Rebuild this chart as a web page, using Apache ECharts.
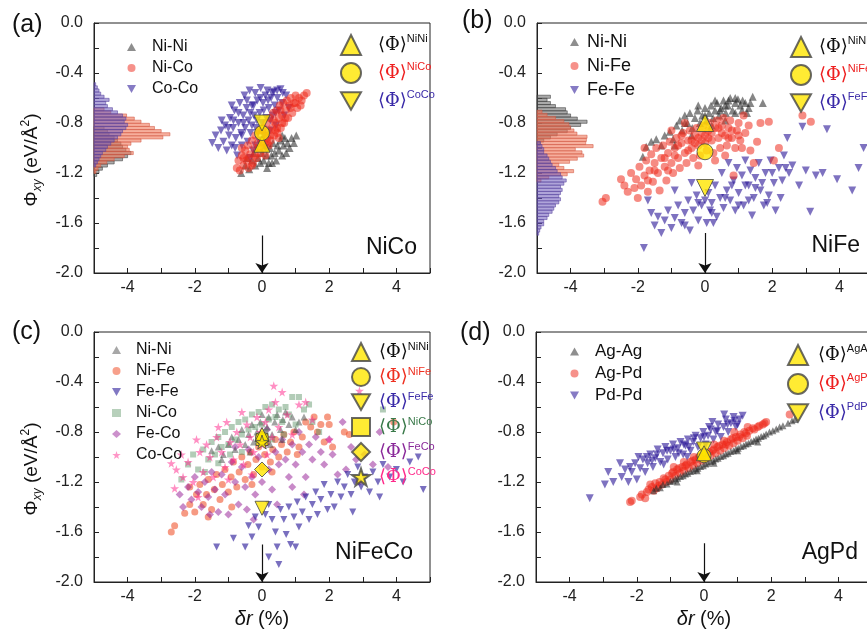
<!DOCTYPE html>
<html>
<head>
<meta charset="utf-8">
<title>Phi_xy vs delta r</title>
<script src="https://cdn.jsdelivr.net/npm/echarts@6/dist/echarts.min.js"></script>
<style>
html, body { margin: 0; padding: 0; background: #fff; }
#main { width: 867px; height: 634px; }
</style>
</head>
<body>
<div id="main"></div>
<script>
// ---- values (delta r in %, Phi_xy in eV/A^2) ----
const xTicks = [-4, -2, 0, 2, 4];

// (a) NiCo
const aNiNi = [[-0.62,-1.2],[-0.5,-1.14],[-0.45,-1.08],[-0.38,-1.17],[-0.3,-1.1],[-0.25,-1.04],[-0.2,-1.14],[-0.12,-1.08],[-0.05,-1.12],[0,-1.04],[0.05,-1.1],[0.1,-0.98],[0.14,-1.06],[0.2,-1.12],[0.24,-1.0],[0.28,-1.06],[0.33,-0.96],[0.38,-1.04],[0.42,-1.1],[0.46,-0.98],[0.5,-1.02],[0.55,-0.94],[0.6,-1.06],[0.64,-0.98],[0.68,-0.92],[0.72,-1.04],[0.76,-0.96],[0.82,-1.0],[0.88,-0.92],[0.95,-0.96],[1.02,-0.9],[0.3,-1.12],[0.6,-0.9],[0.15,-1.16]];
const aNiCo = [[-0.75,-1.16],[-0.7,-1.1],[-0.66,-1.18],[-0.6,-1.06],[-0.55,-1.14],[-0.5,-1.02],[-0.47,-1.1],[-0.42,-0.98],[-0.4,-1.16],[-0.35,-1.05],[-0.3,-0.94],[-0.27,-1.12],[-0.22,-1.0],[-0.2,-0.9],[-0.15,-1.08],[-0.12,-0.96],[-0.08,-0.86],[-0.05,-1.04],[0,-0.94],[0.03,-0.84],[0.06,-1.0],[0.1,-0.9],[0.13,-0.8],[0.16,-0.96],[0.2,-0.86],[0.23,-0.76],[0.26,-0.94],[0.3,-0.84],[0.33,-0.72],[0.36,-0.9],[0.4,-0.8],[0.43,-0.7],[0.46,-0.88],[0.5,-0.76],[0.53,-0.66],[0.56,-0.84],[0.6,-0.74],[0.63,-0.64],[0.66,-0.8],[0.7,-0.7],[0.74,-0.62],[0.78,-0.76],[0.82,-0.66],[0.86,-0.6],[0.9,-0.72],[0.95,-0.64],[1.0,-0.58],[1.05,-0.68],[1.1,-0.6],[1.18,-0.62],[1.25,-0.58],[1.33,-0.56],[-0.3,-1.14],[0.1,-1.06],[-0.6,-1.0],[0.2,-0.98],[0.5,-0.92],[0.0,-0.86],[0.35,-0.78],[0.55,-0.7],[0.7,-0.76],[0.45,-0.84],[0.25,-0.9],[0.15,-0.92],[-0.1,-1.0],[-0.2,-1.06],[0.85,-0.68],[1.0,-0.64],[0.6,-0.8],[0.4,-0.86],[0.05,-0.96],[-0.4,-1.08],[-0.55,-1.08],[1.15,-0.66]];
const aCoCo = [[-1.48,-0.96],[-1.38,-0.9],[-1.3,-1.0],[-1.22,-0.86],[-1.15,-0.95],[-1.1,-0.82],[-1.05,-1.02],[-0.98,-0.9],[-0.95,-0.76],[-0.9,-0.98],[-0.86,-0.84],[-0.82,-0.7],[-0.78,-0.92],[-0.74,-1.06],[-0.7,-0.8],[-0.66,-0.64],[-0.62,-0.88],[-0.6,-0.98],[-0.56,-0.74],[-0.52,-0.58],[-0.5,-0.84],[-0.46,-0.68],[-0.43,-0.95],[-0.4,-0.78],[-0.37,-0.54],[-0.34,-0.88],[-0.3,-0.66],[-0.27,-1.02],[-0.24,-0.74],[-0.2,-0.56],[-0.18,-0.84],[-0.14,-0.62],[-0.1,-0.94],[-0.07,-0.72],[-0.04,-0.52],[0,-0.8],[0.03,-0.64],[0.06,-0.9],[0.1,-0.58],[0.13,-0.76],[0.16,-0.54],[0.2,-0.68],[0.24,-0.86],[0.27,-0.6],[0.31,-0.74],[0.35,-0.55],[0.38,-0.66],[0.42,-0.82],[0.46,-0.6],[0.5,-0.7],[0.55,-0.53],[0.6,-0.64],[0.66,-0.74],[0.72,-0.58],[0.8,-0.68],[-0.8,-1.0],[-0.35,-1.08],[-0.2,-0.98],[0.1,-1.0],[-0.6,-0.9],[-1.2,-0.78],[-0.9,-0.66],[-0.7,-0.72],[-0.45,-0.62],[-0.25,-0.66],[-0.15,-0.78],[0.05,-0.7],[0.18,-0.62],[0.3,-0.56],[0.4,-0.72],[-0.55,-0.8],[-0.35,-0.72],[-0.05,-0.6],[0.25,-0.78],[-0.85,-0.78],[-1.0,-0.84],[0.45,-0.54],[0.62,-0.56],[-0.12,-0.88],[-0.3,-0.82]];
const aMeans = [-0.97, -0.88, -0.8];          // NiNi, NiCo, CoCo

// (a) histograms: bar lengths (in delta r units from the left axis), top bin centre
const HIST_BIN = 0.025;
const aHistNiNiTop = -0.84;
const aHistNiNi = [0.3,0.4,0.45,0.6,0.7,0.8,0.85,0.95,1.1,1.0,0.85,0.6,0.4,0.25,0.15,0.08];
const aHistNiCoTop = -0.69;
const aHistNiCo = [0.3,0.5,0.97,1.2,1.4,1.65,1.8,2.0,2.26,2.05,1.4,1.1,1.0,1.05,1.17,0.9,0.6,0.38,0.2,0.12,0.06];
const aHistCoCoTop = -0.49;
const aHistCoCo = [0.05,0.1,0.15,0.2,0.3,0.45,0.35,0.4,0.55,0.7,0.85,0.95,0.9,1.0,0.95,0.85,0.8,0.7,0.6,0.5,0.4,0.35,0.25,0.2,0.15,0.1,0.05];

// (b) NiFe
const bNiNi = [[-1.85,-1.07],[-1.75,-0.99],[-1.6,-0.95],[-1.45,-0.93],[-1.3,-0.98],[-1.2,-0.9],[-1.05,-0.87],[-0.95,-0.93],[-0.85,-0.82],[-0.75,-0.78],[-0.68,-0.86],[-0.6,-0.74],[-0.52,-0.8],[-0.45,-0.72],[-0.38,-0.84],[-0.3,-0.76],[-0.22,-0.7],[-0.15,-0.8],[-0.08,-0.74],[0,-0.68],[0.05,-0.78],[0.12,-0.72],[0.18,-0.66],[0.24,-0.76],[0.3,-0.7],[0.36,-0.64],[0.42,-0.74],[0.48,-0.68],[0.55,-0.62],[0.62,-0.72],[0.68,-0.66],[0.75,-0.6],[0.82,-0.7],[0.9,-0.64],[0.98,-0.61],[1.05,-0.66],[1.12,-0.62],[1.2,-0.64],[1.3,-0.68],[1.42,-0.59],[1.72,-0.64],[-0.4,-0.9],[0.2,-0.82],[0.6,-0.78],[-0.9,-0.98],[0.9,-0.72],[1.25,-0.72],[0.3,-0.62],[0.6,-0.66],[0.9,-0.6],[1.1,-0.7],[-0.2,-0.66],[0.45,-0.7],[0.7,-0.62],[1.35,-0.64],[-0.6,-0.8],[0.0,-0.74]];
const bNiFe = [[-3.05,-1.43],[-2.95,-1.4],[-2.5,-1.25],[-2.4,-1.3],[-2.3,-1.35],[-2.2,-1.2],[-2.1,-1.32],[-2.05,-1.25],[-1.95,-1.15],[-1.9,-1.3],[-1.8,-1.22],[-1.75,-1.1],[-1.7,-1.35],[-1.65,-1.18],[-1.6,-1.05],[-1.55,-1.27],[-1.5,-1.12],[-1.45,-1.0],[-1.4,-1.2],[-1.35,-1.34],[-1.3,-1.08],[-1.25,-0.98],[-1.2,-1.15],[-1.15,-1.26],[-1.1,-1.04],[-1.05,-0.95],[-1.0,-1.12],[-0.95,-1.2],[-0.9,-1.0],[-0.85,-0.92],[-0.8,-1.08],[-0.75,-1.16],[-0.7,-0.96],[-0.65,-0.88],[-0.6,-1.04],[-0.55,-1.12],[-0.5,-0.94],[-0.45,-0.86],[-0.4,-1.0],[-0.35,-1.08],[-0.3,-0.9],[-0.25,-0.84],[-0.2,-0.98],[-0.15,-1.06],[-0.1,-0.88],[-0.05,-0.82],[0.0,-0.96],[0.05,-1.02],[0.1,-0.86],[0.15,-0.8],[0.2,-0.94],[0.25,-1.04],[0.3,-0.84],[0.35,-0.78],[0.4,-0.92],[0.45,-1.0],[0.5,-0.82],[0.55,-0.76],[0.6,-0.9],[0.65,-0.98],[0.7,-0.84],[0.75,-0.78],[0.8,-0.92],[0.9,-1.0],[0.95,-0.86],[1.0,-0.8],[1.05,-0.94],[1.1,-1.0],[1.15,-0.74],[1.2,-0.88],[1.3,-0.82],[1.35,-1.02],[1.45,-1.12],[1.55,-0.95],[1.65,-0.8],[1.9,-0.79],[2.05,-1.1],[2.2,-1.0],[2.9,-0.74],[3.15,-0.79],[0.85,-1.22],[-1.8,-1.0],[-2.0,-1.4],[-0.6,-0.8],[0.3,-1.1],[-0.2,-1.14],[-1.0,-0.86],[0.6,-1.06],[-0.7,-0.9],[-0.4,-0.94],[-0.1,-0.94],[0.2,-0.88],[0.5,-0.88],[0.8,-0.86],[-0.5,-1.02],[-0.2,-0.92],[0.1,-0.92],[0.4,-0.84],[-0.9,-1.06],[-1.2,-1.08],[-1.5,-1.18],[0.7,-0.92],[1.0,-0.9],[-0.3,-0.96],[0.0,-0.9],[-0.8,-0.98],[-1.1,-1.18],[-1.7,-1.26]];
const bFeFe = [[-1.82,-1.8],[-1.6,-1.52],[-1.5,-1.62],[-1.4,-1.55],[-1.3,-1.68],[-1.2,-1.58],[-1.1,-1.5],[-1.0,-1.64],[-0.9,-1.56],[-0.8,-1.46],[-0.7,-1.6],[-0.6,-1.52],[-0.5,-1.42],[-0.45,-1.66],[-0.35,-1.5],[-0.25,-1.38],[-0.2,-1.58],[-0.1,-1.46],[0,-1.42],[0.05,-1.6],[0.1,-1.36],[0.15,-1.5],[0.2,-1.44],[0.3,-1.3],[0.35,-1.55],[0.45,-1.4],[0.5,-1.2],[0.55,-1.48],[0.65,-1.34],[0.7,-1.12],[0.75,-1.42],[0.85,-1.26],[0.9,-1.5],[0.95,-1.16],[1.0,-1.36],[1.1,-1.22],[1.15,-1.46],[1.2,-1.1],[1.3,-1.3],[1.35,-1.18],[1.45,-1.4],[1.5,-1.24],[1.6,-1.12],[1.65,-1.34],[1.75,-1.46],[1.8,-1.2],[1.9,-1.38],[1.95,-1.1],[2.05,-1.28],[2.1,-1.5],[2.2,-1.16],[2.25,-1.4],[2.35,-1.06],[2.45,-0.92],[2.5,-1.2],[2.6,-1.14],[2.8,-1.3],[2.9,-0.83],[3.0,-1.18],[3.13,-1.51],[3.3,-1.22],[3.5,-1.2],[3.63,-0.85],[3.93,-1.25],[4.38,-1.34],[4.57,-1.16],[4.72,-1.0],[-0.4,-1.28],[-0.9,-1.34],[0.25,-1.6],[1.4,-1.54],[-1.7,-1.42],[1.2,-1.3],[1.5,-1.32],[1.7,-1.28],[2.0,-1.2],[2.3,-1.26],[1.0,-1.46],[0.6,-1.4],[0.2,-1.52],[-0.2,-1.44],[1.85,-1.44],[2.4,-1.16],[1.3,-1.42],[0.8,-1.3],[-0.6,-1.62]];
const bMeans = [-0.8, -1.03, -1.32];          // NiNi, NiFe, FeFe

const bHistNiNiTop = -0.59;
const bHistNiNi = [0.4,0.3,0.4,0.55,0.85,0.9,1.0,1.2,1.49,1.3,1.0,0.9,0.6,0.4,0.2,0.1];
const bHistNiFeTop = -0.71;
const bHistNiFe = [0.15,0.3,0.55,0.8,0.95,1.0,1.1,1.19,1.49,1.47,1.45,1.67,1.14,1.34,1.39,1.2,0.97,0.65,0.8,1.09,0.9,0.35,0.12];
const bHistFeFeTop = -0.96;
const bHistFeFe = [0.1,0.15,0.2,0.2,0.3,0.35,0.4,0.45,0.55,0.6,0.7,0.75,0.87,0.8,0.7,0.75,0.7,0.65,0.7,0.65,0.55,0.5,0.45,0.35,0.3,0.2,0.2,0.12,0.08,0.05];

// (c) NiFeCo
const cNiNi = [[-1.5,-0.95],[-1.3,-0.92],[-1.15,-0.98],[-1.0,-0.9],[-0.9,-0.84],[-0.8,-0.94],[-0.7,-0.86],[-0.6,-0.78],[-0.5,-0.9],[-0.4,-0.82],[-0.3,-0.74],[-0.25,-0.88],[-0.15,-0.8],[-0.05,-0.72],[0.0,-0.66],[0.05,-0.86],[0.15,-0.76],[0.2,-0.68],[0.3,-0.82],[0.38,-0.72],[0.45,-0.66],[0.55,-0.78],[0.62,-0.7],[0.7,-0.64],[0.8,-0.74],[0.9,-0.68],[1.0,-0.78],[1.1,-0.72],[1.25,-0.68],[-0.35,-0.96],[0.25,-0.9],[-1.2,-1.02],[0.6,-0.86]];
const cNiFe = [[-2.7,-1.6],[-2.6,-1.55],[-2.3,-1.45],[-2.15,-1.38],[-2.0,-1.44],[-1.95,-1.3],[-1.85,-1.22],[-1.75,-1.38],[-1.65,-1.3],[-1.6,-1.18],[-1.5,-1.42],[-1.42,-1.26],[-1.35,-1.14],[-1.25,-1.34],[-1.18,-1.22],[-1.1,-1.1],[-1.0,-1.28],[-0.92,-1.16],[-0.85,-1.04],[-0.75,-1.24],[-0.68,-1.12],[-0.6,-1.0],[-0.5,-1.18],[-0.42,-1.06],[-0.35,-0.96],[-0.25,-1.14],[-0.18,-1.02],[-0.1,-0.92],[0.0,-1.08],[0.08,-0.98],[0.15,-0.88],[0.25,-1.04],[0.32,-0.94],[0.4,-0.86],[0.5,-1.0],[0.58,-0.9],[0.65,-0.82],[0.75,-0.96],[0.85,-0.88],[0.95,-0.8],[1.05,-0.98],[1.1,-0.92],[1.2,-0.84],[1.3,-0.72],[1.45,-0.76],[1.55,-0.68],[1.65,-0.8],[1.75,-0.74],[1.85,-0.88],[1.95,-0.68],[2.0,-0.74],[2.1,-0.92],[2.45,-0.8],[2.6,-0.82],[3.92,-0.72],[-1.6,-1.48],[-0.9,-1.4],[-0.3,-1.22],[0.3,-1.12],[-2.15,-1.24]];
const cFeFe = [[-1.35,-1.72],[-0.85,-1.65],[-0.5,-1.72],[-0.4,-1.55],[-0.3,-1.64],[-0.2,-1.48],[-0.1,-1.56],[0.1,-1.46],[0.2,-1.38],[0.3,-1.5],[0.4,-1.6],[0.45,-1.72],[0.5,-1.86],[0.55,-1.42],[0.65,-1.5],[0.72,-1.62],[0.8,-1.4],[0.85,-1.7],[0.95,-1.48],[1.05,-1.36],[1.1,-1.56],[1.2,-1.44],[1.3,-1.32],[1.4,-1.5],[1.5,-1.38],[1.6,-1.28],[1.65,-1.46],[1.75,-1.34],[1.85,-1.22],[1.95,-1.42],[2.05,-1.3],[2.15,-1.4],[2.25,-1.2],[2.35,-1.32],[2.45,-1.24],[2.55,-1.14],[2.65,-1.3],[2.75,-1.2],[2.85,-1.08],[2.95,-1.24],[3.05,-1.16],[3.2,-1.28],[3.3,-1.12],[3.45,-1.2],[3.6,-1.06],[3.8,-1.16],[4.0,-1.1],[4.2,-1.2],[4.4,-1.04],[4.65,-1.0],[4.8,-1.26],[1.0,-1.72],[0.2,-1.8],[2.7,-1.44],[3.5,-1.32]];
const cNiCo = [[-2.4,-1.18],[-2.2,-1.06],[-2.05,-0.98],[-1.9,-1.1],[-1.75,-0.94],[-1.6,-1.02],[-1.5,-0.88],[-1.4,-0.98],[-1.3,-0.84],[-1.2,-0.92],[-1.1,-0.8],[-1.0,-0.9],[-0.9,-0.76],[-0.8,-0.86],[-0.7,-0.72],[-0.6,-0.82],[-0.5,-0.7],[-0.4,-0.78],[-0.3,-0.66],[-0.2,-0.76],[-0.1,-0.64],[0.0,-0.74],[0.1,-0.6],[0.2,-0.7],[0.3,-0.58],[0.4,-0.68],[0.5,-0.62],[0.6,-0.72],[0.7,-0.6],[0.8,-0.66],[0.9,-0.52],[1.0,-0.74],[1.1,-0.52],[1.25,-0.62],[1.4,-0.58],[1.5,-0.72],[1.7,-0.8],[3.6,-0.62],[-1.7,-1.12],[-0.6,-0.96],[0.3,-0.86],[-1.3,-1.05],[0.1,-0.8],[0.65,-0.82],[-0.95,-0.98]];
const cFeCo = [[-2.45,-1.3],[-2.35,-1.4],[-2.2,-1.24],[-2.1,-1.34],[-2.0,-1.16],[-1.9,-1.28],[-1.8,-1.4],[-1.7,-1.2],[-1.6,-1.32],[-1.5,-1.12],[-1.4,-1.26],[-1.3,-1.44],[-1.2,-1.14],[-1.1,-1.3],[-1.0,-1.46],[-0.9,-1.04],[-0.8,-1.2],[-0.7,-1.38],[-0.6,-1.08],[-0.5,-1.24],[-0.4,-0.94],[-0.3,-1.16],[-0.2,-1.3],[-0.1,-1.0],[0.0,-1.2],[0.1,-0.9],[0.2,-1.1],[0.3,-1.26],[0.4,-0.96],[0.5,-1.06],[0.6,-0.86],[0.7,-1.02],[0.8,-1.16],[0.9,-0.9],[1.0,-1.06],[1.1,-0.8],[1.2,-0.96],[1.3,-1.16],[1.4,-0.9],[1.5,-1.02],[1.6,-0.84],[1.75,-0.96],[1.85,-1.06],[2.0,-0.86],[2.1,-0.98],[2.25,-1.14],[2.4,-0.72],[2.5,-1.1],[2.65,-0.92],[2.8,-1.02],[2.9,-1.2],[3.05,-0.98],[3.3,-1.06],[3.5,-0.8],[3.75,-1.08],[-0.25,-1.5],[0.45,-1.38],[-1.55,-1.46],[-0.8,-0.92],[0.15,-0.78],[-0.45,-1.42],[0.9,-1.24],[1.25,-1.3]];
const cCoCo = [[-2.6,-1.25],[-2.55,-1.1],[-2.4,-0.98],[-2.35,-1.16],[-2.2,-1.04],[-2.05,-1.2],[-1.95,-0.86],[-1.85,-0.96],[-1.75,-1.12],[-1.65,-0.9],[-1.55,-1.0],[-1.45,-1.16],[-1.35,-0.84],[-1.3,-0.76],[-1.2,-0.96],[-1.1,-1.08],[-1.05,-0.72],[-0.95,-0.88],[-0.85,-1.02],[-0.75,-0.8],[-0.65,-0.9],[-0.55,-1.06],[-0.45,-0.74],[-0.35,-0.84],[-0.25,-0.96],[-0.15,-0.68],[-0.05,-0.8],[0.0,-0.9],[0.1,-0.72],[0.2,-0.62],[0.3,-0.84],[0.4,-0.56],[0.5,-0.76],[0.6,-0.48],[0.75,-0.66],[0.9,-0.82],[1.1,-0.58],[1.3,-0.56],[1.5,-0.7],[2.0,-0.86],[2.9,-0.47],[0.35,-0.43],[-1.9,-1.32],[-1.0,-1.18],[-0.3,-1.14],[0.15,-0.98],[-0.6,-0.64],[-2.7,-1.05]];
const cMeans = [-0.82, -0.85, -1.41, -0.86, -1.1, -0.88];  // NiNi, NiFe, FeFe, NiCo, FeCo, CoCo

// (d) AgPd
const dAgAg = [[-1.5,-1.27],[-1.42,-1.25],[-1.3,-1.245],[-1.22,-1.22],[-1.1,-1.215],[-1.0,-1.195],[-0.92,-1.19],[-0.85,-1.175],[-0.78,-1.17],[-0.7,-1.155],[-0.62,-1.15],[-0.55,-1.135],[-0.48,-1.13],[-0.4,-1.115],[-0.32,-1.11],[-0.25,-1.095],[-0.18,-1.09],[-0.1,-1.075],[-0.02,-1.07],[0.05,-1.055],[0.12,-1.05],[0.2,-1.035],[0.28,-1.03],[0.35,-1.015],[0.42,-1.01],[0.5,-0.995],[0.58,-0.99],[0.65,-0.975],[0.72,-0.97],[0.8,-0.955],[0.88,-0.95],[0.95,-0.935],[1.02,-0.93],[1.1,-0.915],[1.18,-0.91],[1.25,-0.895],[1.32,-0.89],[1.4,-0.875],[1.48,-0.87],[1.55,-0.855],[1.62,-0.85],[1.7,-0.835],[1.78,-0.83],[1.85,-0.815],[1.95,-0.8],[2.05,-0.79],[2.15,-0.775],[2.25,-0.76],[2.35,-0.75],[2.5,-0.73],[2.62,-0.71],[2.7,-0.7],[-0.8,-1.2],[0.3,-1.05],[1.0,-0.95],[1.6,-0.88],[-0.2,-1.11]];
const dAgPd = [[-2.2,-1.36],[-2.15,-1.35],[-1.85,-1.3],[-1.75,-1.33],[-1.7,-1.28],[-1.55,-1.24],[-1.5,-1.27],[-1.45,-1.21],[-1.4,-1.25],[-1.32,-1.2],[-1.25,-1.22],[-1.2,-1.17],[-1.12,-1.2],[-1.05,-1.15],[-1.0,-1.18],[-0.92,-1.12],[-0.85,-1.15],[-0.8,-1.1],[-0.72,-1.13],[-0.65,-1.08],[-0.6,-1.11],[-0.52,-1.06],[-0.45,-1.09],[-0.4,-1.04],[-0.32,-1.07],[-0.25,-1.02],[-0.2,-1.05],[-0.12,-1.0],[-0.05,-1.03],[0.0,-0.98],[0.08,-1.01],[0.15,-0.96],[0.2,-0.99],[0.28,-0.94],[0.35,-0.97],[0.4,-0.92],[0.48,-0.95],[0.55,-0.9],[0.6,-0.93],[0.68,-0.88],[0.75,-0.91],[0.8,-0.86],[0.88,-0.89],[0.95,-0.84],[1.0,-0.87],[1.08,-0.82],[1.15,-0.85],[1.2,-0.8],[1.28,-0.83],[1.35,-0.79],[1.45,-0.77],[1.6,-0.76],[1.75,-0.74],[1.85,-0.72],[2.55,-0.66],[-0.9,-1.08],[-0.3,-1.0],[0.3,-0.9],[0.9,-0.8],[-1.6,-1.22],[1.3,-0.76],[0.6,-0.87],[-0.6,-1.04],[-1.35,-1.23],[-1.15,-1.18],[-0.95,-1.13],[-0.75,-1.09],[-0.55,-1.07],[-0.35,-1.03],[-0.15,-1.0],[0.05,-0.97],[0.25,-0.95],[0.45,-0.91],[0.65,-0.9],[0.85,-0.85],[1.05,-0.84],[1.25,-0.81],[1.5,-0.78],[1.65,-0.75],[1.8,-0.73],[-1.9,-1.32],[-1.65,-1.26]];
const dPdPd = [[-3.4,-1.33],[-2.95,-1.22],[-2.7,-1.2],[-2.5,-1.05],[-2.45,-1.16],[-2.35,-1.1],[-2.25,-1.2],[-2.15,-1.12],[-2.05,-1.05],[-2.0,-1.18],[-1.9,-1.09],[-1.82,-1.02],[-1.75,-1.12],[-1.68,-1.05],[-1.6,-0.98],[-1.52,-1.08],[-1.45,-1.01],[-1.38,-0.94],[-1.3,-1.04],[-1.22,-0.97],[-1.15,-0.92],[-1.08,-1.02],[-1.0,-0.95],[-0.92,-0.9],[-0.85,-1.0],[-0.78,-0.93],[-0.7,-0.88],[-0.62,-0.98],[-0.55,-0.91],[-0.48,-0.86],[-0.4,-0.95],[-0.32,-0.88],[-0.25,-0.83],[-0.18,-0.92],[-0.1,-0.85],[-0.02,-0.8],[0.05,-0.9],[0.12,-0.83],[0.2,-0.78],[0.28,-0.86],[0.35,-0.8],[0.42,-0.74],[0.5,-0.84],[0.58,-0.76],[0.65,-0.7],[0.72,-0.8],[0.8,-0.73],[0.88,-0.68],[0.95,-0.76],[1.05,-0.7],[1.15,-0.67],[-2.85,-1.12],[-1.2,-1.06],[-0.5,-1.0],[0.25,-0.72],[-1.95,-1.0],[0.6,-0.66],[-1.7,-1.0],[-1.4,-0.98],[-1.1,-0.95],[-0.9,-0.94],[-0.6,-0.9],[-0.3,-0.85],[0.0,-0.84],[0.15,-0.76],[0.4,-0.79],[0.7,-0.74],[0.9,-0.71],[1.0,-0.74],[-0.75,-0.97],[-0.45,-0.92],[-2.2,-1.08],[-1.55,-1.03]];
const dMeans = [-0.97, -0.99, -0.94];          // AgAg, AgPd, PdPd

const arrowTops = [-1.7, -1.68, -1.7, -1.69];
const alloyNames = ['NiCo', 'NiFe', 'NiFeCo', 'AgPd'];
const panelLabels = ['(a)', '(b)', '(c)', '(d)'];

// ---- styling ----
const FONT = 'Liberation Sans';
const DOWN = 'path://M0,0L2,0L1,1.75Z';
const STAR = 'path://M50,0L61,35L98,35L68,57L79,91L50,70L21,91L32,57L2,35L39,35Z';
const YEL = '#ffe600';
const GRIDS = [
  {left: 94, top: 23, width: 336, height: 250},
  {left: 537, top: 23, width: 336, height: 250},
  {left: 94, top: 332, width: 336, height: 250},
  {left: 536, top: 332, width: 336, height: 250}
];

var chart = echarts.init(document.getElementById('main'));

function scat(name, gi, data, symbol, size, color) {
  return {
    type: 'scatter', name: name, xAxisIndex: gi, yAxisIndex: gi,
    data: data, symbol: symbol, symbolSize: size,
    itemStyle: {color: color}, silent: true
  };
}

function mean(name, gi, y, symbol, size) {
  return {
    type: 'scatter', name: name, xAxisIndex: gi, yAxisIndex: gi,
    data: [[0, y]], symbol: symbol, symbolSize: size, z: 5,
    itemStyle: {color: YEL, borderColor: '#444', borderWidth: 1}, silent: true
  };
}

function hist(gi, top, lens, fill, stroke) {
  var data = lens.map(function (v, i) { return [top - i * HIST_BIN, v]; });
  return {
    type: 'custom', xAxisIndex: gi, yAxisIndex: gi, data: data, silent: true, z: 1,
    encode: {x: 1, y: 0},
    renderItem: function (params, api) {
      var yc = api.value(0), len = api.value(1);
      var p0 = api.coord([-5, yc + HIST_BIN / 2]);
      var p1 = api.coord([-5 + len, yc - HIST_BIN / 2]);
      return {
        type: 'rect',
        shape: {x: p0[0], y: p0[1], width: p1[0] - p0[0], height: p1[1] - p0[1]},
        style: {fill: fill, stroke: stroke, lineWidth: 0.8}
      };
    }
  };
}

function arrow(gi) {
  return {
    type: 'line', xAxisIndex: gi, yAxisIndex: gi, data: [], silent: true,
    markLine: {
      silent: true, symbol: ['none', 'arrow'], symbolSize: 10,
      label: {show: false},
      lineStyle: {color: '#111', width: 1.2, type: 'solid'},
      data: [[{coord: [0, arrowTops[gi]]}, {coord: [0, -2]}]]
    }
  };
}

// left legend (pair types)
function pairLegend(names, left, top, gap, pad, fs) {
  return {
    orient: 'vertical', left: left, top: top, itemGap: gap,
    itemWidth: 9, itemHeight: 8, selectedMode: false, data: names,
    itemStyle: {opacity: 0.75},
    formatter: function (n) { return n.slice(2); },
    textStyle: {fontFamily: FONT, fontSize: fs, lineHeight: fs + 2, color: '#111', padding: [0, 0, 0, pad]}
  };
}

// right legend (<Phi> averages), coloured per item
function meanLegend(names, colors, left, top, gap, pad, icon, lh) {
  var rich = {};
  colors.forEach(function (c, i) {
    rich['b' + i] = {fontFamily: 'DejaVu Serif', fontSize: 18, lineHeight: lh, color: c};
    rich['s' + i] = {fontFamily: FONT, fontSize: 11, lineHeight: 12, verticalAlign: 'top', color: c};
  });
  return {
    orient: 'vertical', left: left, top: top, itemGap: gap,
    itemWidth: icon, itemHeight: icon, selectedMode: false, data: names,
    formatter: function (n) {
      var i = names.indexOf(n);
      return '{b' + i + '|\u27E8\u03A6\u27E9}{s' + i + '|' + n.slice(2) + '}';
    },
    textStyle: {fontFamily: FONT, fontSize: 18, lineHeight: lh, padding: [0, 0, 0, pad], rich: rich}
  };
}

const NINI = 'rgba(40,40,40,0.7)';
const RED = 'rgba(238,40,25,0.68)';
const BLUE = 'rgba(40,20,150,0.75)';

var series = [
  // (a)
  hist(0, aHistNiNiTop, aHistNiNi, 'rgba(100,100,100,0.55)', 'rgba(60,60,60,0.7)'),
  hist(0, aHistNiCoTop, aHistNiCo, 'rgba(240,120,90,0.6)', 'rgba(210,90,70,0.7)'),
  hist(0, aHistCoCoTop, aHistCoCo, 'rgba(110,90,185,0.55)', 'rgba(90,70,160,0.7)'),
  scat('a:Ni-Ni', 0, aNiNi, 'triangle', 8, NINI),
  scat('a:Co-Co', 0, aCoCo, DOWN, 8, BLUE),
  scat('a:Ni-Co', 0, aNiCo, 'circle', 8, RED),
  mean('a:NiNi', 0, aMeans[0], 'triangle', 16),
  mean('a:NiCo', 0, aMeans[1], 'circle', 15),
  mean('a:CoCo', 0, aMeans[2], DOWN, 16),
  arrow(0),
  // (b)
  hist(1, bHistNiNiTop, bHistNiNi, 'rgba(100,100,100,0.55)', 'rgba(60,60,60,0.7)'),
  hist(1, bHistNiFeTop, bHistNiFe, 'rgba(240,120,90,0.6)', 'rgba(210,90,70,0.7)'),
  hist(1, bHistFeFeTop, bHistFeFe, 'rgba(110,90,185,0.55)', 'rgba(90,70,160,0.7)'),
  scat('b:Ni-Ni', 1, bNiNi, 'triangle', 8, NINI),
  scat('b:Fe-Fe', 1, bFeFe, DOWN, 8, BLUE),
  scat('b:Ni-Fe', 1, bNiFe, 'circle', 8, RED),
  mean('b:NiNi', 1, bMeans[0], 'triangle', 17),
  mean('b:NiFe', 1, bMeans[1], 'circle', 16),
  mean('b:FeFe', 1, bMeans[2], DOWN, 17),
  arrow(1),
  // (c)
  scat('c:Ni-Fe', 2, cNiFe, 'circle', 7, 'rgba(240,80,40,0.72)'),
  scat('c:Fe-Co', 2, cFeCo, 'diamond', 8, 'rgba(150,30,150,0.65)'),
  scat('c:Ni-Ni', 2, cNiNi, 'triangle', 7, 'rgba(60,60,60,0.6)'),
  scat('c:Ni-Co', 2, cNiCo, 'rect', 6, 'rgba(80,140,90,0.55)'),
  scat('c:Co-Co', 2, cCoCo, STAR, 9, 'rgba(255,40,140,0.65)'),
  scat('c:Fe-Fe', 2, cFeFe, DOWN, 7, 'rgba(45,30,155,0.8)'),
  mean('c:FeFe', 2, cMeans[2], DOWN, 14),
  mean('c:FeCo', 2, cMeans[4], 'diamond', 15),
  mean('c:NiCo', 2, cMeans[3], 'rect', 12),
  mean('c:NiFe', 2, cMeans[1], 'circle', 13),
  mean('c:NiNi', 2, cMeans[0], 'triangle', 14),
  mean('c:CoCo', 2, cMeans[5], STAR, 14),
  arrow(2),
  // (d)
  scat('d:Pd-Pd', 3, dPdPd, DOWN, 8, BLUE),
  scat('d:Ag-Pd', 3, dAgPd, 'circle', 8, RED),
  scat('d:Ag-Ag', 3, dAgAg, 'triangle', 7, NINI),
  mean('d:PdPd', 3, dMeans[2], DOWN, 15),
  mean('d:AgPd', 3, dMeans[1], 'circle', 14),
  mean('d:AgAg', 3, dMeans[0], 'triangle', 15),
  arrow(3)
];

var xAxes = GRIDS.map(function (g, i) {
  return {
    type: 'value', gridIndex: i, min: -5, max: 5, interval: 1,
    name: i >= 2 ? '{i|\u03B4r} (%)' : '',
    nameLocation: 'middle', nameGap: 27,
    nameTextStyle: {fontFamily: FONT, fontSize: 20, color: '#111', rich: {i: {fontFamily: FONT, fontSize: 20, fontStyle: 'italic', color: '#111'}}},
    axisLine: {show: true, onZero: false, lineStyle: {color: '#222', width: 1}},
    axisTick: {show: true, inside: true, length: 5, lineStyle: {color: '#222'}},
    axisLabel: {
      fontFamily: FONT, fontSize: 16, color: '#222', margin: 7,
      formatter: function (v) { return xTicks.indexOf(v) >= 0 ? String(v) : ''; }
    },
    splitLine: {show: false}
  };
});

var yAxes = GRIDS.map(function (g, i) {
  return {
    type: 'value', gridIndex: i, min: -2, max: 0, interval: 0.4,
    name: (i === 0 || i === 2) ? '{a|\u03A6}{sub|xy}{a| (eV/\u00C5}{sup|2}{a|)}' : '',
    nameLocation: 'middle', nameRotate: 90, nameGap: 50,
    nameTextStyle: {
      fontFamily: FONT, fontSize: 19, color: '#111', padding: [0, 24, 0, 0],
      rich: {
        a: {fontFamily: FONT, fontSize: 19, lineHeight: 24, color: '#111'},
        sub: {fontFamily: FONT, fontSize: 12, fontStyle: 'italic', lineHeight: 12, verticalAlign: 'bottom', color: '#111'},
        sup: {fontFamily: FONT, fontSize: 12, lineHeight: 12, verticalAlign: 'top', color: '#111'}
      }
    },
    axisLine: {show: true, onZero: false, lineStyle: {color: '#222', width: 1}},
    axisTick: {show: true, inside: true, length: 5, lineStyle: {color: '#222'}},
    minorTick: {show: true, splitNumber: 2, length: 5, lineStyle: {color: '#222'}},
    axisLabel: {
      fontFamily: FONT, fontSize: 16, color: '#222', margin: 11,
      formatter: function (v) { return v.toFixed(1); }
    },
    splitLine: {show: false}
  };
});

var graphics = [];
var labelPos = [[12, 25], [462, 21], [12, 332], [460, 333]];
var alloyPos = [[417, 248], [860, 246], [413, 553], [858, 553]];
for (var i = 0; i < 4; i++) {
  graphics.push({type: 'text', x: labelPos[i][0], y: labelPos[i][1],
    style: {text: panelLabels[i], fontFamily: FONT, fontSize: 25, fill: '#111', textVerticalAlign: 'middle'}});
  graphics.push({type: 'text', x: alloyPos[i][0], y: alloyPos[i][1],
    style: {text: alloyNames[i], fontFamily: FONT, fontSize: 23, fill: '#111', textAlign: 'right', textVerticalAlign: 'middle'}});
}

chart.setOption({
  animation: false,
  backgroundColor: '#fff',
  textStyle: {fontFamily: FONT},
  grid: GRIDS.map(function (g) {
    return Object.assign({show: true, borderColor: '#222', borderWidth: 1, backgroundColor: 'transparent', outerBoundsMode: 'none', containLabel: false}, g);
  }),
  xAxis: xAxes,
  yAxis: yAxes,
  legend: [
    pairLegend(['a:Ni-Ni', 'a:Ni-Co', 'a:Co-Co'], 122, 33, 3, 11, 16),
    meanLegend(['a:NiNi', 'a:NiCo', 'a:CoCo'], ['#111', '#ee2020', '#3a2aa8'], 335, 28, 4, 12, 20, 24),
    pairLegend(['b:Ni-Ni', 'b:Ni-Fe', 'b:Fe-Fe'], 565, 27, 4, 3, 18),
    meanLegend(['b:NiNi', 'b:NiFe', 'b:FeFe'], ['#111', '#ee2020', '#3a2aa8'], 785, 30, 4, 3, 20, 24),
    pairLegend(['c:Ni-Ni', 'c:Ni-Fe', 'c:Fe-Fe', 'c:Ni-Co', 'c:Fe-Co', 'c:Co-Co'], 107, 336, 3, 10, 16),
    meanLegend(['c:NiNi', 'c:NiFe', 'c:FeFe', 'c:NiCo', 'c:FeCo', 'c:CoCo'], ['#111', '#ee3020', '#3a2aa8', '#3a7a4a', '#8a2a9a', '#ff2a8a'], 346, 336, 3, 4, 18, 22),
    pairLegend(['d:Ag-Ag', 'd:Ag-Pd', 'd:Pd-Pd'], 565, 337, 3, 11, 17),
    meanLegend(['d:AgAg', 'd:AgPd', 'd:PdPd'], ['#111', '#ee2020', '#3a2aa8'], 782, 338, 5, 5, 20, 24)
  ],
  graphic: graphics,
  series: series
});
</script>
</body>
</html>
